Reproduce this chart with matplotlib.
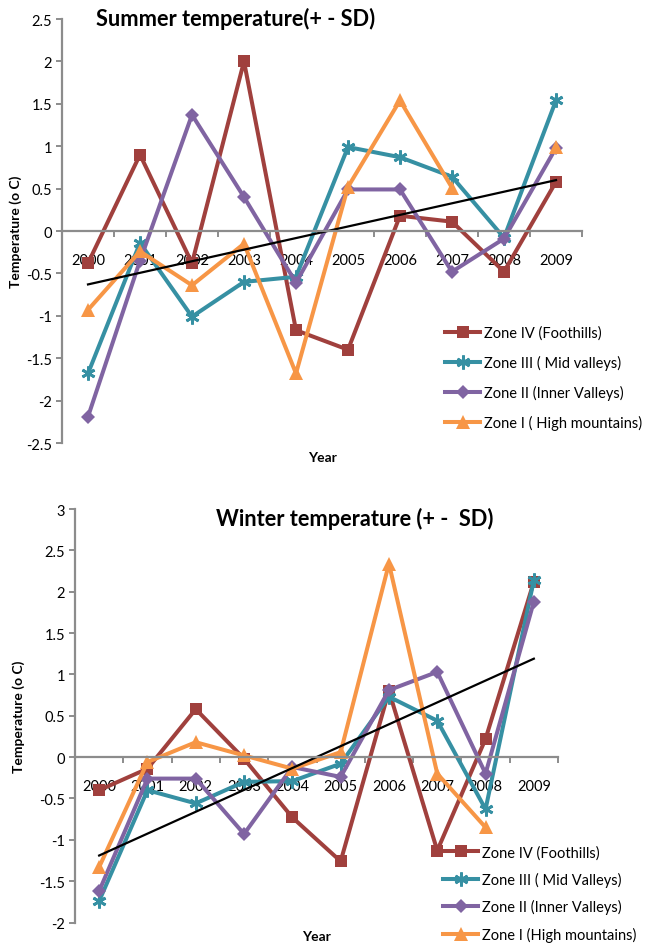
import numpy as np
import matplotlib
matplotlib.use("Agg")
import matplotlib.pyplot as plt
from matplotlib.ticker import FixedLocator, FuncFormatter

plt.rcParams['font.family'] = ['Lato', 'DejaVu Sans']

years = ['2000', '2001', '2002', '2003', '2004', '2005', '2006', '2007', '2008', '2009']

# Summer temperature anomalies (°C)
summer_zone4 = [-0.38, 0.90, -0.38, 2.00, -1.17, -1.40, 0.18, 0.11, -0.48, 0.58]
summer_zone3 = [-1.68, -0.14, -1.01, -0.60, -0.54, 0.99, 0.87, 0.64, -0.08, 1.54]
summer_zone2 = [-2.19, -0.35, 1.37, 0.40, -0.61, 0.49, 0.49, -0.48, -0.09, 0.98]
summer_zone1 = [-0.93, -0.24, -0.64, -0.15, -1.68, 0.52, 1.54, 0.51, np.nan, 0.99]
summer_trend = [-0.63, 0.60]   # linear trend at 2000 and 2009

# Winter temperature anomalies (°C)
winter_zone4 = [-0.40, -0.14, 0.58, -0.02, -0.73, -1.26, 0.80, -1.13, 0.22, 2.12]
winter_zone3 = [-1.74, -0.40, -0.56, -0.30, -0.29, -0.08, 0.73, 0.44, -0.63, 2.14]
winter_zone2 = [-1.62, -0.26, -0.26, -0.93, -0.12, -0.24, 0.81, 1.03, -0.20, 1.88]
winter_zone1 = [-1.33, -0.06, 0.18, 0.02, -0.14, 0.06, 2.34, -0.20, -0.85, np.nan]
winter_trend = [-1.19, 1.19]

summer_labels = ['Zone IV (Foothills)', 'Zone III ( Mid valleys)',
                 'Zone II (Inner Valleys)', 'Zone I ( High mountains)']
winter_labels = ['Zone IV (Foothills)', 'Zone III ( Mid Valleys)',
                 'Zone II (Inner Valleys)', 'Zone I (High mountains)']

summer_ticks = [-2.5, -2, -1.5, -1, -0.5, 0, 0.5, 1, 1.5, 2, 2.5]
winter_ticks = [-2, -1.5, -1, -0.5, 0, 0.5, 1, 1.5, 2, 2.5, 3]

RED = '#A0403D'
TEAL = '#3690A3'
PURPLE = '#8064A2'
ORANGE = '#F79646'
GREY = '#8C8C8C'

styles = [
    dict(color=RED, marker='s', markersize=9, markeredgewidth=0),
    dict(color=TEAL, marker=(6, 2, 0), markersize=10, markeredgewidth=2.0),
    dict(color=PURPLE, marker='D', markersize=7.5, markeredgewidth=0),
    dict(color=ORANGE, marker='^', markersize=10.5, markeredgewidth=0),
]

fig = plt.figure(figsize=(6.46, 9.45), dpi=100)
W, H = 646.0, 945.0


def fmt(v, _):
    return '%g' % v


def panel(rect, series, labels, trend, ticks, title, title_xy,
          legend_xy, legend_spacing, ylabel_x):
    ax = fig.add_axes(rect)
    x = np.arange(len(years))
    for vals, lab, st in zip(series, labels, styles):
        ax.plot(x, vals, linewidth=2.9, label=lab, **st)
    ax.plot([x[0], x[-1]], trend, color='black', linewidth=1.6)

    ax.set_xlim(-0.5, len(years) - 0.5)
    ax.set_ylim(ticks[0], ticks[-1])

    for side in ('top', 'right'):
        ax.spines[side].set_visible(False)
    ax.spines['bottom'].set_position(('data', 0))
    for side in ('left', 'bottom'):
        ax.spines[side].set_color(GREY)
        ax.spines[side].set_linewidth(1.6)

    ax.yaxis.set_major_locator(FixedLocator(ticks))
    ax.yaxis.set_major_formatter(FuncFormatter(fmt))
    ax.tick_params(axis='y', direction='out', length=4, width=1.4,
                   color=GREY, labelsize=10.5, pad=3)

    ax.set_xticks(x)
    ax.set_xticklabels(years)
    ax.set_xticks(np.arange(-0.5, len(years)), minor=True)
    ax.tick_params(axis='x', which='major', length=0, labelsize=10.5, pad=15.5)
    ax.tick_params(axis='x', which='minor', direction='out', length=4,
                   width=1.4, color=GREY)

    ax.set_xlabel('Year', fontsize=10, fontweight='bold')
    ax.xaxis.set_label_coords(0.5, -0.018)
    ax.set_ylabel('Temperature (o C)', fontsize=10, fontweight='bold')
    ax.yaxis.set_label_coords(ylabel_x, 0.5)

    fig.text(title_xy[0] / W, 1 - title_xy[1] / H, title, fontsize=15.7,
             fontweight='bold', ha='center', va='center')

    ax.legend(loc='center left',
              bbox_to_anchor=(legend_xy[0] / W, 1 - legend_xy[1] / H),
              bbox_transform=fig.transFigure, frameon=False, fontsize=10.5,
              borderpad=0, borderaxespad=0, handlelength=2.4,
              handletextpad=0.3, labelspacing=legend_spacing, numpoints=1)
    return ax


ax1 = panel([62 / W, 1 - 444 / H, 520 / W, 424 / H],
            [summer_zone4, summer_zone3, summer_zone2, summer_zone1],
            summer_labels, summer_trend, summer_ticks,
            'Summer temperature(+ - SD)', (236, 19), (445, 379), 1.03, -0.077)

ax2 = panel([75 / W, 1 - 923.5 / H, 483 / W, 413.5 / H],
            [winter_zone4, winter_zone3, winter_zone2, winter_zone1],
            winter_labels, winter_trend, winter_ticks,
            'Winter temperature (+ -  SD)', (355, 519), (443, 894.5), 0.86, -0.1035)

fig.savefig('out.png', dpi=100)
